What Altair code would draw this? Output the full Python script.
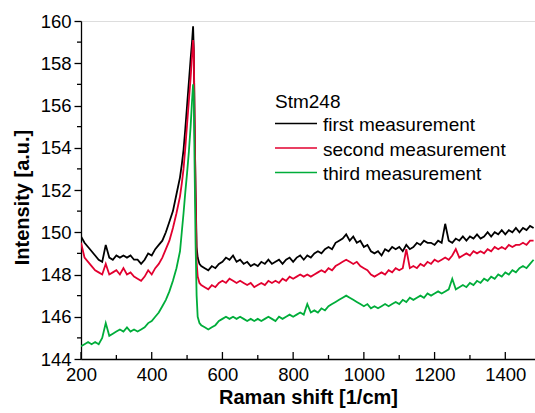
import altair as alt
import pandas as pd

# ---------------- data ----------------
x_low = [200, 210, 220, 230, 240, 250, 260, 270, 280, 290, 300, 310, 320, 330, 340,
         350, 360, 370, 380, 390, 400, 410, 420, 430, 440, 450, 460, 470, 480]
x_peak = [485, 490, 495, 500, 505, 510, 514, 517, 519, 521, 524, 527, 530, 535]
x_high = list(range(540, 1481, 10))

first_low = [149.8, 149.5, 149.3, 149.1, 148.9, 148.7, 148.6, 149.4, 148.8, 148.7,
             148.9, 148.8, 148.9, 148.8, 148.9, 148.7, 148.7, 148.5, 148.7, 149.0,
             148.9, 149.2, 149.4, 149.6, 150.0, 150.5, 151.0, 151.8, 152.6]
first_peak = [153.2, 153.9, 154.9, 156.0, 157.1, 158.2, 159.0, 159.75, 158.6, 155.5,
              152.0, 149.3, 148.8, 148.5]
first_high = [148.4, 148.3, 148.2, 148.4, 148.3, 148.5, 148.6, 148.8, 148.7, 148.9,
              148.6, 148.7, 148.5, 148.6, 148.4, 148.5, 148.4, 148.6, 148.5, 148.7,
              148.5, 148.6, 148.7, 148.5, 148.7, 148.8, 148.6, 148.8, 148.9, 148.7,
              148.9, 148.8, 149.0, 149.1, 149.0, 149.2, 149.3, 149.2, 149.5, 149.6,
              149.7, 149.9, 149.6, 149.8, 149.5, 149.6, 149.3, 149.4, 149.1, 149.0,
              149.1, 148.9, 149.2, 149.1, 149.3, 149.2, 149.3, 149.1, 149.4, 149.2,
              149.3, 149.5, 149.4, 149.6, 149.5, 149.5, 149.4, 149.6, 149.5, 150.4,
              149.6, 149.5, 149.7, 149.6, 149.8, 149.6, 149.8, 149.7, 149.9, 149.7,
              149.8, 150.0, 149.8, 150.0, 149.9, 150.1, 149.9, 150.1, 150.0, 150.2,
              150.0, 150.2, 150.1, 150.3, 150.2]

second_low = [149.5, 148.8, 148.6, 148.4, 148.2, 148.1, 148.0, 148.5, 148.0, 148.1,
              148.2, 148.0, 148.3, 148.0, 148.1, 147.9, 147.8, 147.7, 147.9, 148.2,
              148.0, 148.3, 148.5, 148.8, 149.2, 149.6, 150.2, 150.9, 151.7]
second_peak = [152.3, 153.0, 154.0, 155.1, 156.2, 157.3, 158.3, 159.1, 158.6, 155.8,
               151.8, 148.6, 147.9, 147.6]
second_high = [147.5, 147.4, 147.3, 147.5, 147.4, 147.6, 147.7, 147.6, 147.8, 147.7,
               147.6, 147.7, 147.6, 147.5, 147.6, 147.4, 147.5, 147.6, 147.5, 147.7,
               147.6, 147.7, 147.6, 147.8, 147.7, 147.9, 147.8, 147.9, 148.0, 147.9,
               148.0, 147.9, 148.0, 148.1, 148.2, 148.1, 148.3, 148.2, 148.4, 148.5,
               148.6, 148.7, 148.6, 148.5, 148.6, 148.4, 148.3, 148.2, 148.0, 147.9,
               148.0, 148.1, 148.0, 148.2, 148.1, 148.3, 148.2, 148.3, 149.2, 148.3,
               148.4, 148.3, 148.5, 148.4, 148.6, 148.5, 148.7, 148.6, 148.7, 148.8,
               148.7, 148.9, 149.2, 148.8, 148.9, 149.0, 148.9, 149.1, 149.0, 149.1,
               149.0, 149.2, 149.1, 149.3, 149.2, 149.3, 149.2, 149.4, 149.3, 149.4,
               149.4, 149.5, 149.4, 149.6, 149.6]

third_low = [144.6, 144.7, 144.8, 144.7, 144.8, 144.7, 145.0, 145.7, 145.1, 145.2,
             145.3, 145.4, 145.3, 145.5, 145.3, 145.4, 145.3, 145.4, 145.5, 145.7,
             145.8, 146.0, 146.2, 146.5, 146.8, 147.2, 147.7, 148.3, 149.1]
third_peak = [150.0, 150.9, 151.9, 152.8, 153.8, 155.0, 156.2, 157.0, 156.6, 153.5,
              149.5, 147.0, 146.0, 145.7]
third_high = [145.6, 145.5, 145.4, 145.5, 145.6, 145.8, 145.9, 146.0, 145.9, 146.0,
              145.9, 146.0, 145.9, 145.8, 145.9, 145.8, 145.9, 145.8, 145.9, 146.0,
              145.9, 145.8, 146.0, 145.9, 146.0, 146.1, 146.0, 146.1, 146.2, 146.1,
              146.6, 146.2, 146.3, 146.2, 146.4, 146.3, 146.5, 146.6, 146.7, 146.8,
              146.9, 147.0, 146.9, 146.8, 146.7, 146.6, 146.5, 146.6, 146.4, 146.5,
              146.4, 146.5, 146.6, 146.5, 146.6, 146.7, 146.6, 146.8, 146.7, 146.9,
              146.8, 146.9, 147.0, 146.9, 147.1, 147.0, 147.1, 147.2, 147.1, 147.2,
              147.3, 147.8, 147.3, 147.4, 147.5, 147.4, 147.6, 147.5, 147.7, 147.6,
              147.8, 147.7, 147.9, 147.8, 148.0, 147.9, 148.1, 148.0, 148.2, 148.1,
              148.3, 148.4, 148.3, 148.5, 148.7]

series_names = ["first measurement", "second measurement", "third measurement"]
series_colors = ["#000000", "#e2002f", "#00ad3a"]
legend_title = "Stm248"

x_tick_labels = [200, 400, 600, 800, 1000, 1200, 1400]
x_minor = [300, 500, 700, 900, 1100, 1300]
y_tick_labels = [144, 146, 148, 150, 152, 154, 156, 158, 160]
y_minor = [145, 147, 149, 151, 153, 155, 157, 159]

# ---------------- build table ----------------
xs = x_low + x_peak + x_high
all_vals = [first_low + first_peak + first_high,
            second_low + second_peak + second_high,
            third_low + third_peak + third_high]
rows = []
for name, vals in zip(series_names, all_vals):
    assert len(vals) == len(xs), (name, len(vals), len(xs))
    for xv, yv in zip(xs, vals):
        rows.append({"shift": xv, "intensity": yv, "series": name})
df = pd.DataFrame(rows)

W, H = 454, 338
FONT = "Liberation Sans"
xscale = alt.Scale(domain=[200, 1484], nice=False, zero=False)
yscale = alt.Scale(domain=[144, 160], nice=False, zero=False)

x_axis = alt.Axis(values=x_tick_labels, ticks=False, labelPadding=6, format="d",
                  labelFlush=False, labelFontSize=18.5, labelFont=FONT, labelColor="black",
                  title="Raman shift [1/cm]", titleFont=FONT, titleFontSize=20,
                  titleFontWeight="bold", titleColor="black", titlePadding=4,
                  domainColor="black", domainWidth=1.3, grid=False)
y_axis = alt.Axis(values=y_tick_labels, tickSize=7, tickColor="black", format="d",
                  tickWidth=1.3, labelPadding=3, labelFontSize=18.5, labelFlush=False,
                  labelFont=FONT, labelColor="black",
                  title="Intensity [a.u.]", titleFont=FONT, titleFontSize=20,
                  titleFontWeight="bold", titleColor="black",
                  titleX=-59, titleY=176, titleBaseline="middle",
                  domainColor="black", domainWidth=1.3, grid=False)

base = alt.Chart(df)
layers = []
for name, col in zip(series_names, series_colors):
    layers.append(
        base.transform_filter(alt.datum.series == name)
        .mark_line(color=col, strokeWidth=1.8, clip=True)
        .encode(x=alt.X("shift:Q", scale=xscale, axis=x_axis),
                y=alt.Y("intensity:Q", scale=yscale, axis=y_axis))
    )

# inward x ticks (major and minor) and outward y minor ticks
xt_major = alt.Chart(pd.DataFrame({"shift": x_tick_labels})).mark_rule(color="black", strokeWidth=1.3).encode(
    x=alt.X("shift:Q", scale=xscale, axis=x_axis), y=alt.value(H), y2=alt.value(H - 7))
xt_minor = alt.Chart(pd.DataFrame({"shift": x_minor})).mark_rule(color="black", strokeWidth=1.3).encode(
    x=alt.X("shift:Q", scale=xscale, axis=x_axis), y=alt.value(H), y2=alt.value(H - 4))
yt_minor = alt.Chart(pd.DataFrame({"intensity": y_minor})).mark_rule(color="black", strokeWidth=1.3).encode(
    y=alt.Y("intensity:Q", scale=yscale, axis=y_axis), x=alt.value(-4), x2=alt.value(0))

# manual legend
leg_layers = [
    alt.Chart(pd.DataFrame({"s": [legend_title]})).mark_text(
        align="left", baseline="alphabetic", fontSize=19, font=FONT, color="black"
    ).encode(text="s:N", x=alt.value(194), y=alt.value(87))
]
row_y = [102.5, 127, 151.5]
for name, col, ry in zip(series_names, series_colors, row_y):
    leg_layers.append(
        alt.Chart(pd.DataFrame({"s": [name]})).mark_rule(color=col, strokeWidth=1.6).encode(
            x=alt.value(194), x2=alt.value(236), y=alt.value(ry))
    )
    leg_layers.append(
        alt.Chart(pd.DataFrame({"s": [name]})).mark_text(
            align="left", baseline="middle", fontSize=19, font=FONT, color="black"
        ).encode(text="s:N", x=alt.value(242), y=alt.value(ry + 1.5))
    )

chart = alt.layer(*layers, xt_major, xt_minor, yt_minor, *leg_layers).properties(
    width=W, height=H,
    autosize=alt.AutoSizeParams(type="none"),
    padding={"left": 81, "top": 21, "right": 0, "bottom": 54},
).configure_view(stroke=None).configure(background="white")

chart.save("out.html", embed_options={"renderer": "svg", "actions": False})
